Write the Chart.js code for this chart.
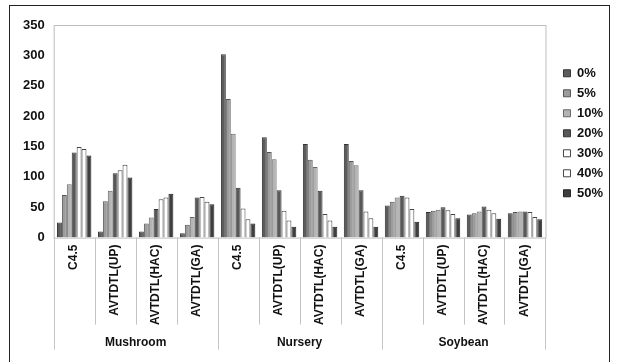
<!DOCTYPE html>
<html lang="en">
<head>
  <meta charset="UTF-8">
  <title>Noise levels by algorithm</title>
  <script src="https://cdn.jsdelivr.net/npm/chart.js@4.4.0/dist/chart.umd.min.js"></script>
  <style>
    body { margin: 0; background: #fff; }
    #frame { position: absolute; left: 9px; top: 5px; width: 599px; height: 400px;
             border: 1.5px solid #222; border-bottom: none; }
    #wrap { position: absolute; left: 0; top: 0; width: 619px; height: 362px; }
  </style>
</head>
<body>
  <div id="frame"></div>
  <div id="wrap"><canvas id="chart"></canvas></div>

<script>
// category labels along the x axis, 4 per data set
const categories = ['C4.5', 'AVTDTL(UP)', 'AVTDTL(HAC)', 'AVTDTL(GA)',
                    'C4.5', 'AVTDTL(UP)', 'AVTDTL(HAC)', 'AVTDTL(GA)',
                    'C4.5', 'AVTDTL(UP)', 'AVTDTL(HAC)', 'AVTDTL(GA)'];
const groups = ['Mushroom', 'Nursery', 'Soybean'];
const levels = ['0%', '5%', '10%', '20%', '30%', '40%', '50%'];

// values per noise level
const noise0  = [25, 10, 10, 7,  302, 165, 154, 154,  53, 42, 38, 40];
const noise5  = [70, 60, 23, 21, 228, 141, 128, 126,  59, 44, 40, 42];
const noise10 = [88, 77, 33, 34, 171, 129, 116, 119,  66, 46, 43, 43];
const noise20 = [140, 106, 47, 66, 82, 78, 77, 78,    69, 50, 51, 43];
const noise30 = [149, 111, 63, 67, 48, 44, 39, 43,    66, 45, 46, 42];
const noise40 = [146, 120, 66, 59, 30, 28, 28, 32,    47, 39, 40, 34];
const noise50 = [135, 99, 72, 55,  23, 18, 18, 18,    26, 32, 31, 30];

const yTicks = [0, 50, 100, 150, 200, 250, 300, 350];

const series = [noise0, noise5, noise10, noise20, noise30, noise40, noise50];
const fills = ['#5c5c5c', '#9c9c9c', '#b4b4b4', '#585858', '#ffffff', '#ffffff', '#3e3e3e'];
const edges = ['#333', '#555', '#666', '#333', '#444', '#444', '#222'];

const boxes = {
  id: 'boxes',
  afterLayout(chart) {
    // legend sits a bit further from the plot than chart.js puts it
    const lg = chart.legend;
    lg.left += 11; lg.right += 11;
    lg.top += 2; lg.bottom += 2;
  },
  beforeDatasetsDraw(chart) {
    const a = chart.chartArea, ctx = chart.ctx;
    ctx.save();
    ctx.strokeStyle = '#bdbdbd';
    ctx.lineWidth = 1;
    ctx.strokeRect(a.left + 0.5, a.top + 0.5, a.right - a.left, a.bottom - a.top);
    ctx.restore();
  },
  afterDraw(chart) {
    const x = chart.scales.x, ctx = chart.ctx;
    const n = categories.length, w = x.width / n, bottom = chart.chartArea.bottom;
    ctx.save();
    ctx.strokeStyle = '#c4c4c4';
    ctx.lineWidth = 1;
    for (let i = 0; i <= n; i++) {
      const px = Math.round(x.left + i * w) + 0.5;
      ctx.beginPath();
      ctx.moveTo(px, bottom);
      ctx.lineTo(px, bottom + (i % 4 === 0 ? 112 : 87));
      ctx.stroke();
    }
    ctx.fillStyle = '#111';
    ctx.font = 'bold 12px "Liberation Sans", Arial, sans-serif';
    ctx.textAlign = 'center';
    ctx.textBaseline = 'middle';
    groups.forEach((g, k) => {
      ctx.fillText(g, x.left + (k * 4 + 2) * w, bottom + 105);
    });
    ctx.restore();
  }
};

new Chart(document.getElementById('chart'), {
  type: 'bar',
  data: {
    labels: categories,
    datasets: series.map((d, i) => ({
      label: levels[i],
      data: d,
      backgroundColor: fills[i],
      borderColor: edges[i],
      borderWidth: 1,
      categoryPercentage: 0.84,
      barPercentage: 1
    }))
  },
  options: {
    responsive: true,
    maintainAspectRatio: false,
    animation: false,
    layout: { padding: { left: 14, top: 25, right: 17, bottom: 30 } },
    plugins: {
      tooltip: { enabled: false },
      legend: {
        position: 'right',
        fullSize: false,
        labels: {
          boxWidth: 7, boxHeight: 7, padding: 7,
          color: '#111',
          font: { family: '"Liberation Sans", Arial, sans-serif', size: 13, weight: 'bold' }
        }
      }
    },
    scales: {
      x: {
        grid: { display: false, drawTicks: false },
        border: { display: false },
        ticks: {
          autoSkip: false, minRotation: 90, maxRotation: 90, padding: 7,
          color: '#111',
          font: { family: '"Liberation Sans", Arial, sans-serif', size: 12, weight: 'bold' }
        }
      },
      y: {
        min: 0, max: 350,
        afterBuildTicks(s) { s.ticks = yTicks.map(v => ({ value: v })); },
        grid: { display: false, drawTicks: false },
        border: { display: false },
        ticks: {
          padding: 9,
          color: '#111',
          font: { family: '"Liberation Sans", Arial, sans-serif', size: 13, weight: 'bold' }
        }
      }
    }
  },
  plugins: [boxes]
});
</script>
</body>
</html>
